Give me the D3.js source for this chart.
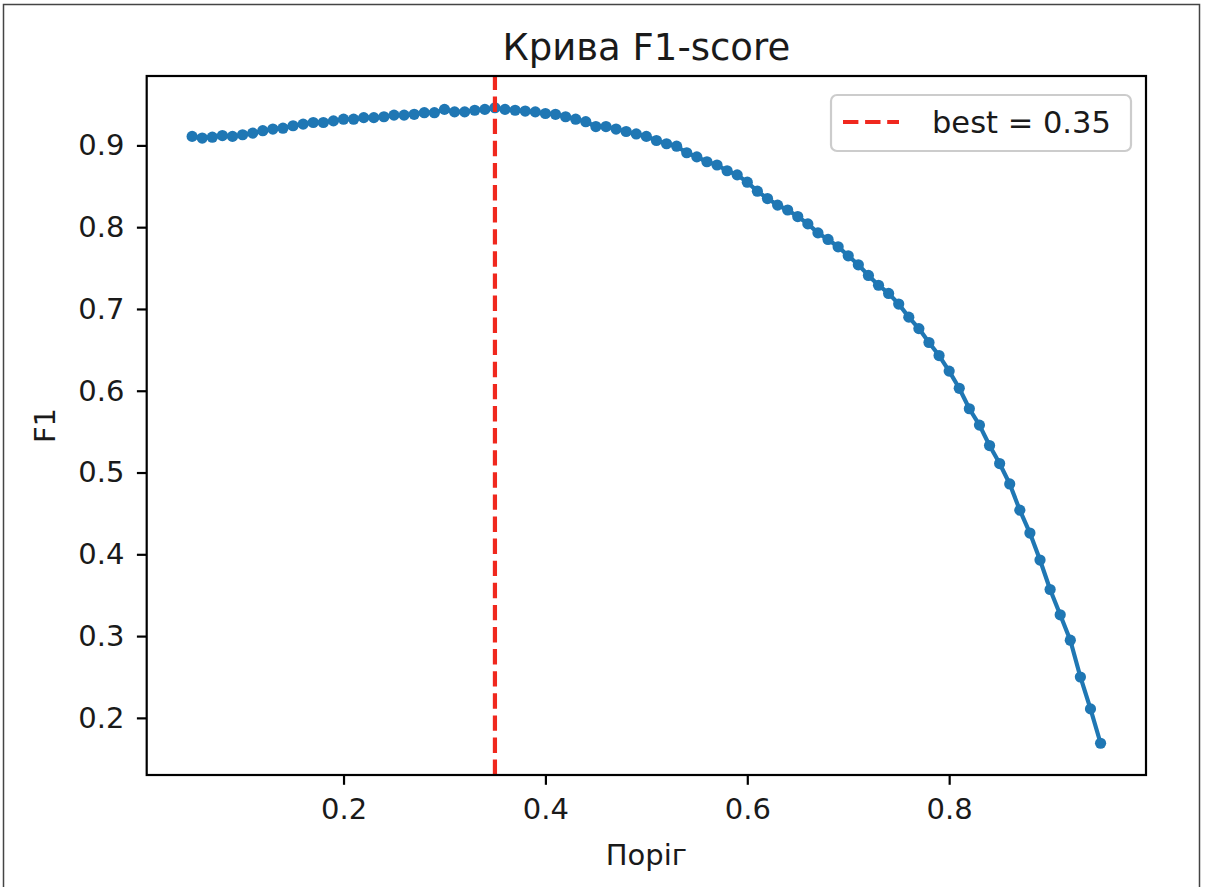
<html>
<meta charset="utf-8" />
<head>
<title>Крива F1-score</title>
<script src="https://cdn.jsdelivr.net/npm/d3@7/dist/d3.min.js"></script>
<style>
	body { margin: 0; background: #fff; }
	text { font-family: "DejaVu Sans", sans-serif; fill: #1a1a1a; }
</style>
<script>
// пороги і значення F1
const thresholds = [
	0.05, 0.06, 0.07, 0.08, 0.09, 0.10, 0.11, 0.12, 0.13, 0.14,
	0.15, 0.16, 0.17, 0.18, 0.19, 0.20, 0.21, 0.22, 0.23, 0.24,
	0.25, 0.26, 0.27, 0.28, 0.29, 0.30, 0.31, 0.32, 0.33, 0.34,
	0.35, 0.36, 0.37, 0.38, 0.39, 0.40, 0.41, 0.42, 0.43, 0.44,
	0.45, 0.46, 0.47, 0.48, 0.49, 0.50, 0.51, 0.52, 0.53, 0.54,
	0.55, 0.56, 0.57, 0.58, 0.59, 0.60, 0.61, 0.62, 0.63, 0.64,
	0.65, 0.66, 0.67, 0.68, 0.69, 0.70, 0.71, 0.72, 0.73, 0.74,
	0.75, 0.76, 0.77, 0.78, 0.79, 0.80, 0.81, 0.82, 0.83, 0.84,
	0.85, 0.86, 0.87, 0.88, 0.89, 0.90, 0.91, 0.92, 0.93, 0.94,
	0.95
];
const f1Scores = [
	0.911, 0.909, 0.910, 0.912, 0.911, 0.913, 0.915, 0.918, 0.920, 0.921,
	0.924, 0.926, 0.928, 0.928, 0.930, 0.932, 0.932, 0.934, 0.934, 0.935,
	0.937, 0.937, 0.938, 0.940, 0.940, 0.944, 0.941, 0.941, 0.943, 0.944,
	0.946, 0.944, 0.943, 0.942, 0.941, 0.939, 0.938, 0.935, 0.932, 0.929,
	0.923, 0.923, 0.920, 0.917, 0.914, 0.911, 0.906, 0.902, 0.899, 0.891,
	0.886, 0.880, 0.876, 0.869, 0.864, 0.855, 0.844, 0.835, 0.827, 0.821,
	0.813, 0.804, 0.793, 0.785, 0.776, 0.765, 0.754, 0.741, 0.729, 0.719,
	0.706, 0.690, 0.676, 0.659, 0.643, 0.624, 0.603, 0.578, 0.558, 0.533,
	0.511, 0.486, 0.454, 0.426, 0.393, 0.357, 0.326, 0.295, 0.250, 0.211,
	0.169
];
const bestThreshold = 0.35;
const xTicks = [0.2, 0.4, 0.6, 0.8];
const yTicks = [0.2, 0.3, 0.4, 0.5, 0.6, 0.7, 0.8, 0.9];

window.onload = function() {
	const W = 1208, H = 887;
	const left = 146.7, right = 1146, top = 76, bottom = 775;
	const blue = '#1f77b4';

	const svg = d3.select('body').append('svg')
		.attr('width', W).attr('height', H);

	// рамка скріншоту
	svg.append('path')
		.attr('d', `M3.5,${H + 5} V4.5 H1199.5 V${H + 5}`)
		.attr('fill', 'none').attr('stroke', '#444').attr('stroke-width', 1.5);

	// межі осей як у matplotlib (+5% поля)
	const xExt = d3.extent(thresholds), yExt = d3.extent(f1Scores);
	const xPad = (xExt[1] - xExt[0]) * 0.05, yPad = (yExt[1] - yExt[0]) * 0.05;
	const xScale = d3.scaleLinear().domain([xExt[0] - xPad, xExt[1] + xPad]).range([left, right]);
	const yScale = d3.scaleLinear().domain([yExt[0] - yPad, yExt[1] + yPad]).range([bottom, top]);

	const xAxis = d3.axisBottom(xScale).tickValues(xTicks).tickFormat(d3.format('.1f'))
		.tickSize(9.8).tickPadding(13.5);
	const yAxis = d3.axisLeft(yScale).tickValues(yTicks).tickFormat(d3.format('.1f'))
		.tickSize(9.8).tickPadding(12.5);

	const gx = svg.append('g').attr('transform', `translate(0,${bottom})`).call(xAxis);
	const gy = svg.append('g').attr('transform', `translate(${left},0)`).call(yAxis);
	[gx, gy].forEach(g => {
		g.select('.domain').remove();
		g.selectAll('line').attr('stroke', '#000').attr('stroke-width', 2.2);
		g.selectAll('text').attr('font-family', 'DejaVu Sans').attr('font-size', 29).attr('fill', '#1a1a1a');
	});

	// лінія F1 з точками
	const line = d3.line().x((d, i) => xScale(thresholds[i])).y(d => yScale(d));
	svg.append('path').datum(f1Scores)
		.attr('d', line).attr('fill', 'none')
		.attr('stroke', blue).attr('stroke-width', 4.2).attr('stroke-linejoin', 'round');
	svg.append('g').selectAll('circle')
		.data(f1Scores).enter().append('circle')
		.attr('cx', (d, i) => xScale(thresholds[i]))
		.attr('cy', d => yScale(d))
		.attr('r', 5.6).attr('fill', blue);

	// найкращий поріг
	svg.append('line')
		.attr('x1', xScale(bestThreshold)).attr('x2', xScale(bestThreshold))
		.attr('y1', bottom).attr('y2', top)
		.attr('stroke', '#f0281e').attr('stroke-width', 4.2).attr('stroke-dasharray', '15.4,6.7');

	// рамка осей
	svg.append('rect')
		.attr('x', left).attr('y', top).attr('width', right - left).attr('height', bottom - top)
		.attr('fill', 'none').attr('stroke', '#000').attr('stroke-width', 2.2);

	// легенда
	const lg = svg.append('g');
	lg.append('rect')
		.attr('x', 831).attr('y', 95).attr('width', 300).attr('height', 56).attr('rx', 6)
		.attr('fill', 'white').attr('fill-opacity', 0.8).attr('stroke', '#cccccc').attr('stroke-width', 2.2);
	lg.append('line')
		.attr('x1', 843).attr('x2', 899).attr('y1', 122).attr('y2', 122)
		.attr('stroke', '#f0281e').attr('stroke-width', 4.2).attr('stroke-dasharray', '15.4,6.7');
	lg.append('text')
		.attr('x', 932).attr('y', 133).attr('font-size', 30.5)
		.text('best = ' + d3.format('.2f')(bestThreshold));

	// підписи
	svg.append('text')
		.attr('x', (left + right) / 2).attr('y', 60).attr('text-anchor', 'middle')
		.attr('font-size', 37).text('Крива F1-score');
	svg.append('text')
		.attr('x', (left + right) / 2).attr('y', 865).attr('text-anchor', 'middle')
		.attr('font-size', 29).text('Поріг');
	svg.append('text')
		.attr('transform', `translate(55,${(top + bottom) / 2}) rotate(-90)`)
		.attr('text-anchor', 'middle').attr('font-size', 29).text('F1');
}
</script>
</head>
<body>
</body>
</html>
